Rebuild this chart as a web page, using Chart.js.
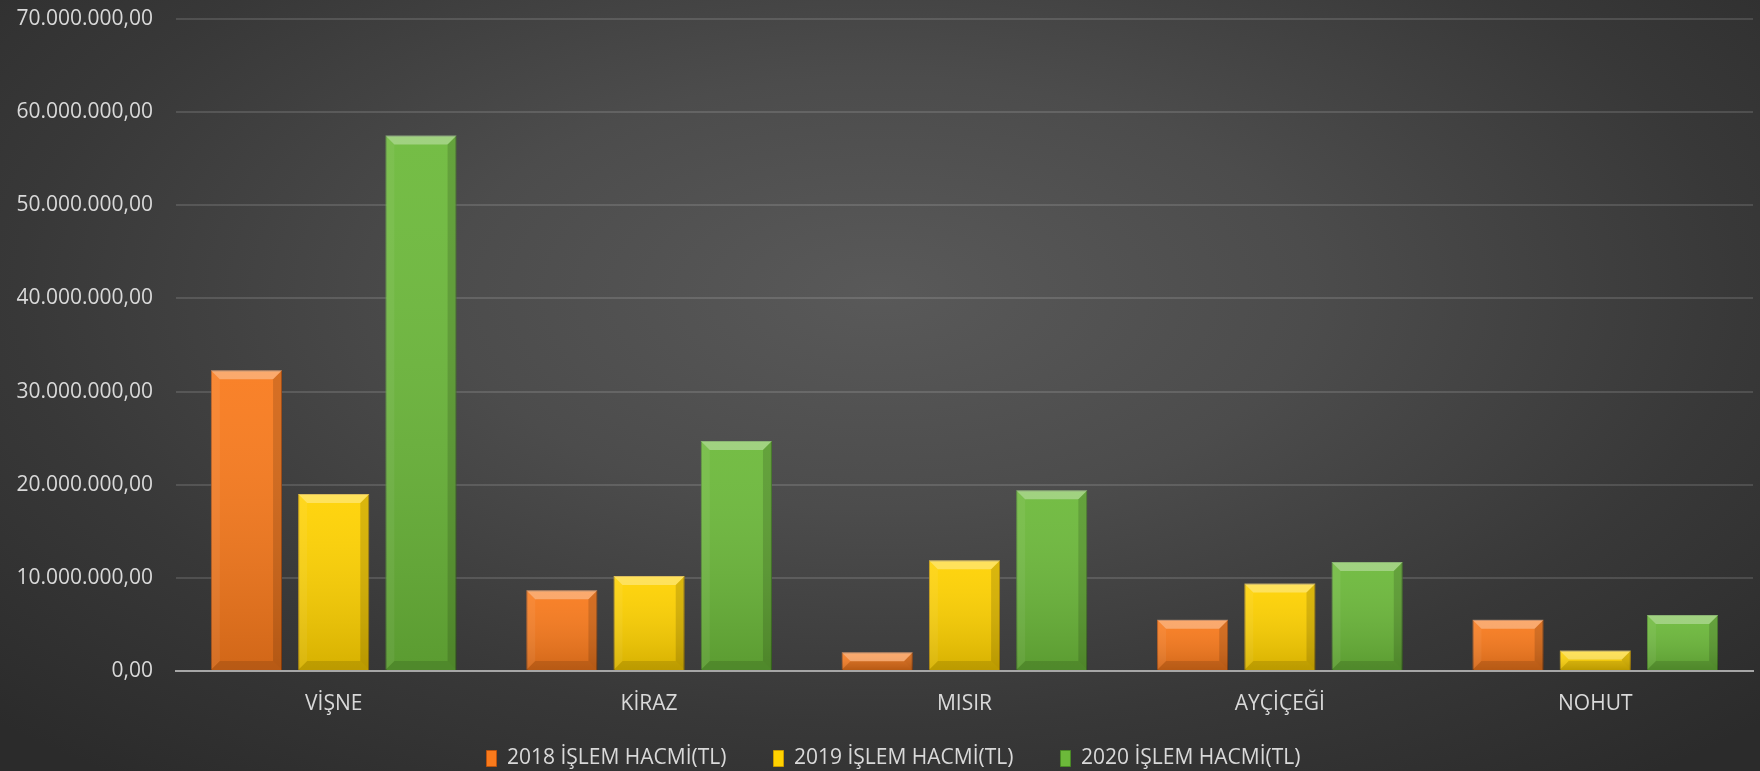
<!DOCTYPE html>
<html>
<head>
<meta charset="utf-8">
<script src="https://cdn.jsdelivr.net/npm/chart.js@4.4.1/dist/chart.umd.min.js"></script>
<style>
  html, body { margin: 0; padding: 0; }
  body {
    width: 1760px; height: 771px; overflow: hidden;
    background: radial-gradient(ellipse 70% 80% at 50% 38%, #595959 0%, #4c4c4c 35%, #383838 70%, #2b2b2b 100%);
  }
  #wrap { position: relative; width: 1760px; height: 771px; }
</style>
</head>
<body>
<div id="wrap"><canvas id="myChart"></canvas></div>
<script>
// categories and values (TL)
var categories = ['VİŞNE', 'KİRAZ', 'MISIR', 'AYÇİÇEĞİ', 'NOHUT'];
var seriesNames = ['2018 İŞLEM HACMİ(TL)', '2019 İŞLEM HACMİ(TL)', '2020 İŞLEM HACMİ(TL)'];
var values2018 = [32300000, 8660000, 2000000, 5500000, 5500000];
var values2019 = [19000000, 10200000, 11900000, 9400000, 2200000];
var values2020 = [57500000, 24700000, 19400000, 11700000, 6000000];
var yTicks = [0, 10000000, 20000000, 30000000, 40000000, 50000000, 60000000, 70000000];

var fillColors = ['#f97a1c', '#ffd200', '#6cb93a'];
var edgeColors = ['#b9520e', '#c99a00', '#4a8a26'];

// 70000000 -> "70.000.000,00"
function trFormat(v) {
    var s = Math.round(v).toString();
    var out = '';
    while (s.length > 3) {
        out = '.' + s.slice(-3) + out;
        s = s.slice(0, -3);
    }
    return s + out + ',00';
}

// bevel look of the office bars
var bevel = {
    id: 'bevel',
    afterDatasetsDraw: function(chart) {
        var ctx = chart.ctx;
        chart.data.datasets.forEach(function(ds, i) {
            var meta = chart.getDatasetMeta(i);
            meta.data.forEach(function(bar) {
                var p = bar.getProps(['x', 'y', 'base', 'width'], true);
                var l = p.x - p.width / 2, r = p.x + p.width / 2;
                var t = p.y, b = p.base;
                var h = b - t;
                var bv = Math.min(9, h / 2);
                ctx.save();
                var g = ctx.createLinearGradient(0, t, 0, b);
                g.addColorStop(0, 'rgba(255,255,255,0.06)');
                g.addColorStop(1, 'rgba(0,0,0,0.16)');
                ctx.fillStyle = g;
                ctx.fillRect(l, t, r - l, h);
                // top
                ctx.fillStyle = 'rgba(255,255,255,0.32)';
                ctx.beginPath();
                ctx.moveTo(l, t); ctx.lineTo(r, t); ctx.lineTo(r - bv, t + bv); ctx.lineTo(l + bv, t + bv);
                ctx.closePath(); ctx.fill();
                // left
                ctx.fillStyle = 'rgba(255,255,255,0.06)';
                ctx.beginPath();
                ctx.moveTo(l, t); ctx.lineTo(l + bv, t + bv); ctx.lineTo(l + bv, b - bv); ctx.lineTo(l, b);
                ctx.closePath(); ctx.fill();
                // right
                ctx.fillStyle = 'rgba(0,0,0,0.14)';
                ctx.beginPath();
                ctx.moveTo(r, t); ctx.lineTo(r - bv, t + bv); ctx.lineTo(r - bv, b - bv); ctx.lineTo(r, b);
                ctx.closePath(); ctx.fill();
                // bottom
                ctx.fillStyle = 'rgba(0,0,0,0.12)';
                ctx.beginPath();
                ctx.moveTo(l, b); ctx.lineTo(r, b); ctx.lineTo(r - bv, b - bv); ctx.lineTo(l + bv, b - bv);
                ctx.closePath(); ctx.fill();
                ctx.restore();
            });
        });
    }
};

// legend: keep the wide gaps between items but not the tall box
var legendFix = {
    id: 'legendFix',
    afterInit: function(chart) {
        var lg = chart.legend;
        if (!lg || lg._fixed) return;
        lg._fixed = true;
        var fit = lg.fit, draw = lg.draw;
        lg.fit = function() {
            fit.apply(this, arguments);
            this.height = 48;
        };
        lg.draw = function() {
            var top = this.top, bottom = this.bottom, height = this.height;
            var c = this.ctx;
            this.top = 701;
            this.bottom = this.chart.height;
            this.height = this.bottom - this.top;
            c.save();
            c.translate(17, 0);
            draw.apply(this, arguments);
            c.restore();
            this.top = top; this.bottom = bottom; this.height = height;
        };
    }
};

var allValues = [values2018, values2019, values2020];
var datasets = seriesNames.map(function(name, i) {
    return {
        label: name,
        data: allValues[i],
        backgroundColor: fillColors[i],
        borderColor: edgeColors[i],
        borderWidth: 1,
        categoryPercentage: 0.83,
        barPercentage: 0.816
    };
});

Chart.defaults.font.family = "'Open Sans', sans-serif";
Chart.defaults.color = '#d9d9d9';

var ctx = document.getElementById('myChart').getContext("2d");
var chart = new Chart(ctx, {
    type: "bar",
    data: {
        labels: categories,
        datasets: datasets
    },
    options: {
        responsive: true,
        maintainAspectRatio: false,
        animation: false,
        layout: {
            padding: { top: 19, right: 7, left: 0, bottom: 0 }
        },
        scales: {
            x: {
                grid: { display: false, drawTicks: false },
                border: { color: '#a6a6a6', width: 2 },
                afterFit: function(scale) { scale.height = 52; },
                ticks: { font: { size: 21 }, padding: 20, color: '#d9d9d9' }
            },
            y: {
                min: 0,
                max: 70000000,
                afterBuildTicks: function(scale) {
                    scale.ticks = yTicks.map(function(v) { return { value: v }; });
                },
                afterFit: function(scale) {
                    scale.width = 176;
                    scale.paddingTop = 0;
                    scale.paddingBottom = 0;
                },
                grid: { color: 'rgba(255,255,255,0.13)', lineWidth: 2, drawTicks: false },
                border: { display: false },
                ticks: {
                    padding: 23,
                    font: { size: 21 },
                    color: '#d9d9d9',
                    callback: function(v) { return trFormat(v); }
                }
            }
        },
        plugins: {
            legend: {
                position: 'bottom',
                labels: {
                    boxWidth: 10,
                    boxHeight: 16,
                    padding: 47,
                    font: { size: 21 },
                    color: '#d9d9d9'
                }
            },
            tooltip: { enabled: false }
        }
    },
    plugins: [bevel, legendFix]
});
</script>
</body>
</html>
